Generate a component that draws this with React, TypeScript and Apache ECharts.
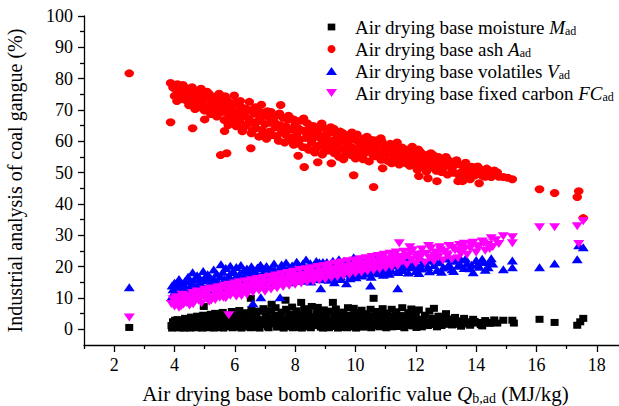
import React, { useEffect, useRef } from 'react';
import * as echarts from 'echarts';

const FONT = '"Liberation Serif", "Times New Roman", serif';

const seriesNames = [
  'Air drying base moisture',
  'Air drying base ash',
  'Air drying base volatiles',
  'Air drying base fixed carbon',
];

const legendLabels: Record<string, string> = {
  'Air drying base moisture': '{sp| }Air drying base moisture {i|M}{sub|ad}',
  'Air drying base ash': '{sp| }Air drying base ash {i|A}{sub|ad}',
  'Air drying base volatiles': '{sp| }Air drying base volatiles {i|V}{sub|ad}',
  'Air drying base fixed carbon': '{sp| }Air drying base fixed carbon {i|FC}{sub|ad}',
};

const xMajorTicks = [2, 4, 6, 8, 10, 12, 14, 16, 18];
const xMinorTicks = [1, 3, 5, 7, 9, 11, 13, 15, 17, 19];
const yMajorTicks = [0, 10, 20, 30, 40, 50, 60, 70, 80, 90, 100];
const yMinorTicks = [5, 15, 25, 35, 45, 55, 65, 75, 85, 95];

const moisture: number[][] = [
  [2.5,0.6],[3.9,1.2],[3.95,2.4],[4.0,0.8],[4.05,1.9],[4.1,3.1],[4.15,1.4],[4.2,0.5],[4.25,2.7],[4.3,1.6],[4.35,3.5],[4.4,0.9],[4.45,2.2],[4.5,1.3],[4.55,3.9],[4.6,0.6],[4.65,2.6],[4.7,1.7],[4.75,4.2],[4.8,0.9],[4.85,3.0],[4.9,1.5],[4.97,7.3],[4.95,4.5],[5.0,2.1],[5.05,0.7],[5.1,3.4],[5.15,1.8],[5.2,4.8],[5.25,1.0],[5.3,2.9],[5.35,5.1],[5.4,1.4],[5.45,3.7],[5.5,0.6],[5.55,2.4],[5.6,5.4],[5.65,1.2],[5.7,3.3],[5.75,4.5],[5.8,0.9],[5.85,2.7],[5.9,5.7],[5.95,1.6],[6.0,3.8],[6.05,0.7],[6.1,2.3],[6.15,6.0],[6.2,1.3],[6.25,4.2],[6.3,2.9],[6.35,0.8],[6.4,5.3],[6.45,1.9],[6.53,9.9],[6.5,3.5],[6.55,6.3],[6.6,1.1],[6.65,4.6],[6.7,2.6],[6.75,0.6],[6.8,5.8],[6.85,3.1],[6.9,1.5],[6.95,6.6],[7.0,2.2],[7.05,4.4],[7.1,0.9],[7.15,3.6],[7.22,8.0],[7.2,5.9],[7.25,1.7],[7.3,2.8],[7.35,6.9],[7.4,0.7],[7.45,4.1],[7.5,2.0],[7.55,5.5],[7.6,1.2],[7.68,9.3],[7.65,3.3],[7.7,6.4],[7.75,0.9],[7.8,4.8],[7.85,2.5],[7.9,7.1],[7.95,1.4],[8.0,3.8],[8.05,5.9],[8.1,0.6],[8.15,2.9],[8.2,8.6],[8.2,4.5],[8.25,1.8],[8.3,6.6],[8.35,3.2],[8.4,0.8],[8.45,5.2],[8.5,2.3],[8.55,7.3],[8.6,1.2],[8.65,4.0],[8.75,7.0],[8.7,2.7],[8.8,5.6],[8.85,0.7],[8.9,3.5],[8.95,6.2],[9.0,1.6],[9.05,4.3],[9.1,2.4],[9.15,5.8],[9.25,8.6],[9.2,0.9],[9.3,3.7],[9.35,6.5],[9.4,1.9],[9.45,4.8],[9.5,0.6],[9.55,2.9],[9.6,5.5],[9.65,1.3],[9.7,3.9],[9.75,6.9],[9.8,2.1],[9.85,4.5],[9.94,6.7],[9.9,0.8],[9.95,3.2],[10.0,5.3],[10.05,1.7],[10.1,4.0],[10.15,2.6],[10.2,6.1],[10.25,0.7],[10.3,3.6],[10.35,5.0],[10.4,1.5],[10.45,2.8],[10.5,6.4],[10.6,9.9],[10.55,4.3],[10.6,1.1],[10.65,3.3],[10.7,5.7],[10.75,2.2],[10.8,0.8],[10.85,4.6],[10.9,6.6],[10.95,1.8],[11.0,3.4],[11.05,5.2],[11.1,1.0],[11.2,6.4],[11.15,2.7],[11.25,4.1],[11.3,1.6],[11.35,5.6],[11.4,2.9],[11.45,0.9],[11.5,4.4],[11.55,6.9],[11.6,2.2],[11.65,3.8],[11.7,1.3],[11.75,5.3],[11.8,2.6],[11.85,6.5],[11.9,1.1],[11.95,3.6],[12.0,4.9],[12.05,1.9],[12.1,6.2],[12.15,3.0],[12.2,0.8],[12.3,4.5],[12.35,2.3],[12.45,5.8],[12.5,1.5],[12.6,6.7],[12.55,3.5],[12.65,2.0],[12.75,4.2],[12.85,1.2],[12.9,3.1],[13.0,5.0],[13.1,2.5],[13.2,1.4],[13.3,3.8],[13.4,2.1],[13.5,1.0],[13.6,3.5],[13.7,2.4],[13.8,1.3],[13.9,3.2],[14.0,2.0],[14.1,2.2],[14.2,1.1],[14.3,2.8],[14.45,1.9],[14.5,2.2],[14.6,3.0],[14.9,2.9],[15.2,2.9],[15.25,2.0],[16.1,3.2],[16.6,2.2],[17.35,1.3],[17.55,3.5],[17.45,2.4],
  [3.92,0.4],[4.02,2.9],[4.12,0.5],[4.22,1.9],[4.32,0.4],[4.42,2.8],[4.52,0.4],[4.62,1.6],[4.72,0.5],[4.82,2.3],[4.92,0.4],[5.02,1.3],[5.12,0.5],[5.22,2.6],[5.32,0.4],[5.42,2.2],[5.52,1.6],[5.62,0.4],[5.72,2.0],[5.82,3.7],[5.92,0.5],[6.02,1.8],[6.12,4.0],[6.22,0.4],[6.32,1.9],[6.42,3.2],[6.52,0.5],[6.62,2.9],[6.72,4.2],[6.82,0.4],[6.92,2.6],[7.02,4.0],[7.12,0.5],[7.22,2.4],[7.32,4.5],[7.42,1.2],[7.52,3.4],[7.62,0.4],[7.72,2.0],[7.82,3.6],[7.92,0.5],[8.02,2.1],[8.12,4.2],[8.22,0.4],[8.32,2.2],[8.42,4.0],[8.52,0.5],[8.62,2.8],[8.72,5.0],[8.82,1.8],[8.92,0.4],[9.02,3.0],[9.12,0.5],[9.22,2.2],[9.32,5.2],[9.42,0.4],[9.52,2.0],[9.62,3.9],[9.72,0.5],[9.82,3.4],[9.92,2.4],[10.02,0.4],[10.12,2.9],[10.22,4.5],[10.32,1.0],[10.42,3.7],[10.52,0.5],[10.62,2.4],[10.72,4.0],[10.82,1.9],[10.92,3.1],[11.02,0.5],[11.12,2.2],[11.22,0.8],[11.32,3.3],[11.42,1.9],[11.52,2.5],[11.62,0.5],[11.72,3.2],[11.82,1.5],[11.92,2.6],[12.02,0.6],[12.12,2.2],[12.25,3.2],[12.4,1.2],[12.55,2.5],[12.7,0.8],[12.8,2.6],[12.95,1.6],[13.15,3.3],[13.35,1.6],[13.55,2.7],[13.75,1.7],[13.95,2.5],[14.15,1.5],[14.35,2.2],[14.7,2.0],
];

const ash: number[][] = [
  [2.5,81.7],[3.87,78.6],[3.87,66.1],[3.95,77.2],[4.05,76.5],[4.1,78.2],[4.15,74.8],[4.2,77.6],[4.25,75.9],[4.3,73.4],[4.35,77.1],[4.4,75.2],[4.45,72.6],[4.5,76.4],[4.55,74.1],[4.6,64.2],[4.6,71.8],[4.65,75.7],[4.7,73.2],[4.75,76.2],[4.8,70.9],[4.85,74.5],[4.9,72.3],[4.95,75.4],[5.0,67.0],[5.0,69.8],[5.05,73.6],[5.1,71.2],[5.15,75.1],[5.2,68.7],[5.25,72.8],[5.3,70.4],[5.35,74.2],[5.4,67.9],[5.45,71.6],[5.5,73.8],[5.53,55.6],[5.55,69.3],[5.6,72.1],[5.66,63.3],[5.65,66.8],[5.7,70.6],[5.73,56.2],[5.75,73.0],[5.8,68.4],[5.85,65.9],[5.9,71.4],[5.95,67.6],[6.0,72.3],[6.05,64.8],[6.1,69.7],[6.15,66.5],[6.2,71.0],[6.25,63.2],[6.3,68.2],[6.35,70.5],[6.4,65.4],[6.45,67.3],[6.53,57.8],[6.5,69.9],[6.55,62.6],[6.6,66.1],[6.65,68.8],[6.7,64.2],[6.75,70.2],[6.8,61.5],[6.85,67.4],[6.9,63.6],[6.95,69.1],[7.0,65.5],[7.05,60.8],[7.1,67.9],[7.15,63.1],[7.2,69.4],[7.25,62.0],[7.3,66.3],[7.35,64.5],[7.4,68.3],[7.45,60.2],[7.52,71.6],[7.5,65.2],[7.55,62.9],[7.6,67.5],[7.65,59.6],[7.7,64.7],[7.75,66.9],[7.8,61.3],[7.85,63.8],[7.9,67.1],[7.95,58.9],[8.0,65.4],[8.05,62.2],[8.1,55.4],[8.1,64.1],[8.15,60.5],[8.2,66.6],[8.25,58.2],[8.3,51.8],[8.3,63.3],[8.35,61.1],[8.4,65.8],[8.45,57.3],[8.5,62.6],[8.55,59.6],[8.6,64.9],[8.65,56.4],[8.7,61.7],[8.75,53.3],[8.75,63.8],[8.8,58.7],[8.85,60.9],[8.9,55.8],[8.95,64.3],[9.0,59.2],[9.05,62.4],[9.1,57.1],[9.18,64.5],[9.2,53.0],[9.2,60.3],[9.25,62.9],[9.3,56.2],[9.35,58.8],[9.4,61.6],[9.45,55.1],[9.5,63.1],[9.55,57.7],[9.6,54.3],[9.6,60.2],[9.65,62.0],[9.7,56.6],[9.75,59.1],[9.8,61.3],[9.85,55.6],[9.9,58.0],[9.94,49.2],[9.95,60.6],[10.0,54.5],[10.05,62.2],[10.1,57.2],[10.15,59.7],[10.2,55.9],[10.25,54.3],[10.3,61.0],[10.35,57.9],[10.4,59.8],[10.45,53.6],[10.5,56.7],[10.55,60.4],[10.6,45.4],[10.6,58.5],[10.65,55.2],[10.7,57.4],[10.75,59.6],[10.84,61.0],[10.85,54.1],[10.9,51.4],[10.9,56.8],[10.95,58.3],[11.0,55.6],[11.05,57.8],[11.1,53.6],[11.15,59.2],[11.2,53.0],[11.2,56.1],[11.3,58.4],[11.35,54.8],[11.4,57.0],[11.45,52.6],[11.5,55.9],[11.55,58.0],[11.6,53.9],[11.65,56.5],[11.7,54.6],[11.75,57.4],[11.8,52.2],[11.85,55.3],[11.9,57.1],[11.95,53.4],[12.0,55.8],[12.05,50.9],[12.1,48.9],[12.1,54.4],[12.15,56.6],[12.2,52.3],[12.3,55.2],[12.35,50.4],[12.4,48.2],[12.4,53.5],[12.5,56.2],[12.55,51.6],[12.6,54.3],[12.7,47.3],[12.7,52.6],[12.75,55.0],[12.85,50.2],[12.9,54.3],[12.95,52.0],[13.05,49.4],[13.1,53.8],[13.2,51.2],[13.3,52.9],[13.4,47.3],[13.4,52.7],[13.5,50.1],[13.55,47.3],[13.6,51.5],[13.7,49.0],[13.8,47.9],[13.85,51.9],[13.9,51.4],[14.0,49.6],[14.1,46.6],[14.15,51.0],[14.25,50.5],[14.3,48.7],[14.45,49.8],[14.5,48.6],[14.6,50.7],[14.9,48.6],[15.2,47.9],[16.1,44.7],[16.6,43.5],[17.4,44.1],[17.35,42.2],[17.55,35.5],
  [4.0,74.5],[4.08,72.9],[4.18,76.9],[4.28,78.0],[4.38,74.0],[4.48,71.5],[4.58,77.3],[4.68,70.3],[4.78,74.0],[4.88,76.8],[4.98,71.0],[5.08,75.8],[5.18,70.0],[5.28,73.9],[5.38,68.6],[5.48,75.2],[5.58,70.2],[5.68,74.4],[5.78,65.2],[5.88,69.3],[5.98,74.6],[6.08,67.6],[6.18,72.9],[6.28,64.3],[6.38,69.6],[6.48,72.6],[6.58,63.5],[6.68,70.9],[6.78,66.5],[6.88,71.7],[6.98,62.5],[7.08,69.6],[7.18,65.9],[7.28,67.6],[7.38,61.6],[7.48,68.9],[7.58,64.0],[7.68,62.1],[7.78,68.2],[7.88,60.3],[7.98,66.8],[8.08,59.3],[8.18,63.6],[8.28,67.3],[8.38,58.0],[8.48,64.2],[8.58,61.0],[8.68,57.6],[8.78,62.2],[8.88,65.7],[8.98,57.0],[9.08,60.6],[9.18,58.0],[9.28,64.0],[9.38,56.8],[9.48,60.0],[9.58,62.6],[9.68,55.9],[9.78,57.5],[9.88,62.8],[9.98,56.2],[10.08,60.0],[10.18,58.6],[10.28,56.0],[10.38,61.5],[10.48,58.3],[10.58,55.6],[10.68,60.3],[10.78,56.1],[10.88,59.9],[10.98,54.2],[11.08,56.6],[11.18,58.0],[11.28,55.0],[11.38,59.6],[11.48,54.0],[11.58,57.0],[11.68,53.0],[11.78,55.8],[11.88,58.3],[11.98,52.7],[12.08,57.4],[12.18,54.0],[12.28,51.6],[12.38,55.7],[12.48,53.0],[12.58,55.6],[12.68,50.6],[12.78,53.6],[12.88,51.2],[13.0,55.0],[13.15,52.2],[13.25,50.0],[13.35,54.0],[13.45,49.0],[13.65,53.2],[13.75,50.5],[13.95,49.1],[14.05,52.0],[14.2,49.0],[14.35,51.3],[14.55,49.4],[14.75,48.7],[14.7,50.1],[15.05,48.4],
];

const volatiles: number[][] = [
  [2.5,13.4],[3.9,10.2],[3.95,12.8],[4.0,14.9],[4.05,11.6],[4.1,13.7],[4.15,16.1],[4.2,12.3],[4.25,14.6],[4.3,10.9],[4.35,15.4],[4.4,13.1],[4.45,16.8],[4.5,11.8],[4.55,14.3],[4.6,18.2],[4.6,12.7],[4.65,15.9],[4.7,13.5],[4.75,17.3],[4.8,12.1],[4.85,16.2],[4.9,14.2],[4.95,18.6],[5.0,13.0],[5.05,15.7],[5.1,17.6],[5.15,12.6],[5.2,16.5],[5.25,14.7],[5.3,19.1],[5.35,13.4],[5.4,17.8],[5.45,15.2],[5.54,20.8],[5.5,13.9],[5.6,18.4],[5.65,16.0],[5.7,19.6],[5.75,14.3],[5.8,17.2],[5.85,20.3],[5.9,15.1],[5.95,18.7],[6.0,16.4],[6.05,19.9],[6.1,14.6],[6.15,17.6],[6.2,20.5],[6.25,15.8],[6.3,18.9],[6.35,16.7],[6.4,19.4],[6.45,14.9],[6.5,17.9],[6.6,8.3],[6.55,20.1],[6.6,16.2],[6.65,18.6],[6.7,15.4],[6.75,19.7],[6.86,10.2],[6.8,17.1],[6.85,20.6],[6.9,15.9],[6.95,18.3],[7.0,16.8],[7.05,20.2],[7.1,14.8],[7.15,18.0],[7.2,19.5],[7.25,16.3],[7.3,21.0],[7.35,17.5],[7.4,15.2],[7.5,10.2],[7.45,19.0],[7.5,17.0],[7.55,20.7],[7.6,16.0],[7.65,18.8],[7.7,21.3],[7.75,15.6],[7.8,19.8],[7.85,17.4],[7.9,20.4],[7.95,16.5],[8.0,18.6],[8.05,21.6],[8.1,15.9],[8.15,19.2],[8.2,17.7],[8.25,20.9],[8.36,22.3],[8.3,16.8],[8.4,19.5],[8.45,18.1],[8.5,21.1],[8.55,16.4],[8.6,20.0],[8.65,17.9],[8.7,21.8],[8.8,21.4],[8.85,13.1],[8.75,16.9],[8.8,19.3],[8.9,18.3],[8.95,20.6],[9.0,17.2],[9.05,21.5],[9.1,16.6],[9.15,19.9],[9.2,18.5],[9.3,15.0],[9.25,21.9],[9.3,17.6],[9.35,20.2],[9.4,18.8],[9.45,22.4],[9.5,17.0],[9.55,20.8],[9.6,19.1],[9.7,14.7],[9.65,17.8],[9.7,21.4],[9.75,18.4],[9.8,20.5],[9.85,17.3],[9.94,23.0],[9.9,19.6],[9.95,21.1],[10.0,18.0],[10.05,20.3],[10.1,17.5],[10.15,22.0],[10.2,19.0],[10.25,21.3],[10.3,18.3],[10.35,20.6],[10.4,17.8],[10.5,14.0],[10.45,22.3],[10.5,19.4],[10.55,21.0],[10.6,18.1],[10.65,20.2],[10.7,22.7],[10.75,19.2],[10.8,17.9],[10.85,21.5],[10.9,19.8],[10.95,18.5],[11.0,20.9],[11.05,22.4],[11.1,19.0],[11.15,21.2],[11.2,18.7],[11.3,20.4],[11.4,13.1],[11.35,22.0],[11.45,19.5],[11.5,21.1],[11.55,18.9],[11.65,20.6],[11.7,22.8],[11.8,19.8],[11.9,21.6],[12.0,18.6],[12.05,20.1],[12.15,22.4],[12.2,19.4],[12.3,21.0],[12.4,19.9],[12.5,22.0],[12.6,20.5],[12.7,18.9],[12.8,21.4],[12.9,19.7],[13.0,22.6],[13.1,20.7],[13.2,19.2],[13.3,21.9],[13.4,20.3],[13.5,22.3],[13.6,19.6],[13.7,21.1],[13.9,18.2],[13.85,20.6],[14.0,22.1],[14.1,20.0],[14.25,21.5],[14.4,19.8],[14.5,22.7],[14.55,21.0],[14.9,19.2],[15.2,22.0],[15.2,19.8],[16.1,19.8],[16.6,21.0],[17.35,22.4],[17.55,26.2],[17.4,26.8],
  [3.92,14.0],[4.02,12.2],[4.12,15.2],[4.22,10.8],[4.32,13.4],[4.42,11.5],[4.52,15.6],[4.62,14.0],[4.72,11.9],[4.82,14.8],[4.92,12.8],[5.02,16.9],[5.12,14.1],[5.22,12.0],[5.32,15.9],[5.42,13.0],[5.52,17.0],[5.62,14.8],[5.72,12.9],[5.82,16.0],[5.92,18.3],[6.02,13.4],[6.12,16.9],[6.22,14.0],[6.32,17.3],[6.42,15.6],[6.52,13.9],[6.62,19.1],[6.72,16.8],[6.82,14.4],[6.92,19.6],[7.02,15.3],[7.12,17.6],[7.22,14.2],[7.32,18.9],[7.42,16.4],[7.52,14.9],[7.62,19.9],[7.72,17.1],[7.82,15.0],[7.92,18.6],[8.02,16.1],[8.12,20.5],[8.22,15.5],[8.32,18.9],[8.42,16.9],[8.52,15.3],[8.62,19.0],[8.72,17.2],[8.82,16.0],[8.92,21.5],[9.02,18.9],[9.12,15.8],[9.22,20.5],[9.32,16.4],[9.42,19.8],[9.52,16.1],[9.62,21.9],[9.72,18.0],[9.82,16.3],[9.92,21.7],[10.02,16.6],[10.12,19.8],[10.22,17.2],[10.32,21.9],[10.42,18.9],[10.52,16.8],[10.62,21.7],[10.72,18.6],[10.82,20.5],[10.92,17.4],[11.02,19.6],[11.12,17.7],[11.22,21.8],[11.42,18.3],[11.6,20.0],[11.75,18.1],[11.95,20.5],[12.1,18.0],[12.25,21.5],[12.45,18.5],[12.65,21.9],[12.85,18.4],[13.05,20.1],[13.25,18.6],[13.45,21.0],[13.65,22.6],[13.8,19.5],[14.05,20.8],[14.3,19.0],[14.45,21.4],[14.2,22.5],
];

const fixedCarbon: number[][] = [
  [2.5,3.8],[3.9,8.1],[3.95,9.6],[4.0,7.3],[4.05,10.2],[4.1,8.6],[4.15,6.9],[4.2,9.3],[4.25,11.0],[4.3,7.9],[4.35,9.8],[4.4,8.4],[4.45,10.8],[4.5,7.6],[4.55,9.5],[4.6,11.6],[4.65,8.9],[4.7,10.4],[4.75,12.1],[4.8,9.1],[4.85,11.3],[4.9,8.3],[4.95,10.7],[5.0,12.6],[5.05,9.7],[5.1,11.8],[5.15,8.8],[5.2,13.0],[5.25,10.3],[5.3,12.2],[5.35,9.4],[5.4,11.5],[5.45,13.4],[5.5,10.1],[5.55,12.7],[5.6,11.0],[5.65,13.9],[5.7,9.9],[5.8,4.5],[5.75,12.4],[5.8,14.2],[5.85,10.7],[5.9,13.1],[5.95,11.7],[6.0,14.6],[6.05,10.5],[6.1,12.9],[6.15,15.0],[6.2,11.4],[6.25,13.6],[6.3,12.2],[6.35,15.3],[6.4,11.0],[6.45,14.1],[6.5,12.8],[6.55,15.7],[6.6,11.8],[6.65,14.4],[6.7,13.2],[6.75,16.1],[6.8,12.4],[6.85,14.9],[6.9,13.6],[6.95,16.4],[7.0,12.0],[7.05,15.2],[7.1,13.9],[7.15,16.8],[7.2,12.7],[7.25,15.6],[7.3,14.3],[7.35,17.2],[7.4,13.1],[7.45,16.0],[7.5,14.7],[7.55,17.6],[7.6,13.5],[7.65,16.3],[7.7,15.1],[7.75,18.0],[7.8,13.9],[7.85,16.7],[7.9,15.4],[7.95,18.4],[8.0,14.2],[8.05,17.1],[8.1,15.8],[8.15,18.9],[8.2,14.6],[8.25,17.4],[8.3,16.1],[8.35,19.2],[8.4,15.0],[8.45,17.8],[8.5,16.5],[8.55,19.5],[8.6,15.3],[8.65,18.1],[8.7,16.9],[8.75,19.9],[8.8,15.7],[8.85,18.5],[8.9,17.2],[8.95,20.2],[9.0,16.0],[9.05,18.8],[9.1,17.5],[9.15,20.6],[9.2,16.4],[9.25,19.2],[9.3,17.9],[9.35,21.0],[9.4,16.7],[9.45,19.5],[9.5,18.2],[9.55,21.3],[9.6,17.1],[9.65,19.9],[9.7,18.6],[9.75,21.7],[9.8,17.4],[9.85,20.3],[9.9,18.9],[9.95,22.0],[10.0,17.8],[10.05,20.6],[10.1,19.3],[10.15,22.4],[10.2,18.1],[10.25,21.0],[10.3,19.6],[10.35,22.7],[10.4,18.5],[10.45,21.3],[10.5,20.0],[10.55,23.1],[10.6,18.8],[10.65,21.7],[10.7,20.3],[10.75,23.4],[10.8,19.2],[10.85,22.0],[10.9,20.7],[10.95,23.8],[11.0,19.5],[11.05,22.4],[11.1,21.0],[11.15,24.1],[11.2,19.9],[11.25,22.7],[11.3,21.4],[11.35,24.5],[11.45,27.5],[11.4,20.2],[11.5,23.1],[11.55,21.7],[11.6,24.8],[11.7,20.6],[11.8,26.2],[11.75,23.4],[11.85,22.1],[11.9,25.2],[12.0,21.0],[12.05,23.8],[12.1,22.4],[12.2,25.5],[12.3,21.3],[12.35,24.1],[12.45,22.8],[12.5,25.9],[12.6,21.7],[12.65,24.5],[12.75,23.1],[12.8,26.2],[12.9,22.0],[12.95,24.8],[13.05,23.5],[13.1,26.6],[13.2,22.4],[13.3,25.2],[13.4,22.7],[13.45,26.9],[13.5,24.2],[13.6,27.3],[13.7,23.8],[13.8,25.8],[13.9,27.6],[14.0,24.5],[14.1,26.4],[14.2,28.0],[14.3,25.1],[14.4,27.0],[14.5,29.1],[14.55,26.3],[14.9,29.7],[15.2,29.4],[15.2,27.5],[16.1,32.6],[16.6,32.6],[17.35,32.9],[17.55,34.5],[17.4,27.2],
  [4.02,8.9],[4.22,7.4],[4.42,10.1],[4.62,8.0],[4.82,10.0],[5.02,11.1],[5.22,9.2],[5.42,12.6],[5.62,10.1],[5.82,12.0],[6.02,13.3],[6.22,10.6],[6.42,13.2],[6.62,14.8],[6.82,13.8],[7.02,14.0],[7.22,16.4],[7.42,14.9],[7.62,15.6],[7.82,17.5],[8.02,15.8],[8.22,16.8],[8.42,18.7],[8.62,17.3],[8.82,17.0],[9.02,19.6],[9.22,17.8],[9.42,20.1],[9.62,18.8],[9.82,19.6],[10.02,21.4],[10.22,19.9],[10.42,22.0],[10.62,20.1],[10.82,23.0],[11.02,21.2],[11.22,23.5],[11.42,22.4],[11.62,23.0],[11.82,24.6],[12.02,22.9],[12.22,24.0],[12.42,26.6],[12.62,23.4],[12.82,25.2],[13.02,24.0],[13.22,26.0],[13.42,25.0],[13.62,25.6],[13.82,27.0],[14.02,26.5],[14.25,27.5],[14.45,25.6],[14.65,28.4],[14.75,27.2],
];

const axisColor = '#000';

export default function App() {
  const ref = useRef<HTMLDivElement>(null);

  useEffect(() => {
    document.documentElement.style.overflow = 'hidden';
    document.body.style.overflow = 'hidden';
    const chart = echarts.init(ref.current!, null, { renderer: 'svg' });
    const lineStyle = { color: axisColor, width: 1.3 };
    chart.setOption({
      animation: false,
      backgroundColor: '#fff',
      textStyle: { fontFamily: FONT, color: '#000' },
      grid: { left: 84, top: 16, width: 543, height: 329, containLabel: false, outerBoundsMode: 'none' },
      legend: {
        orient: 'vertical',
        left: 321,
        top: 12,
        itemWidth: 11,
        itemHeight: 8,
        itemGap: 2,
        selectedMode: false,
        data: [
          { name: seriesNames[0], icon: 'path://M0,0 M11,8 M1.7,0.6h7.6v6.8h-7.6z' },
          { name: seriesNames[1], icon: 'circle' },
          { name: seriesNames[2], icon: 'path://M5.5,0L11,8L0,8Z' },
          { name: seriesNames[3], icon: 'path://M0,0L11,0L5.5,8Z' },
        ],
        formatter: (name: string) => legendLabels[name],
        textStyle: {
          fontFamily: FONT,
          fontSize: 19,
          color: '#000',
          lineHeight: 20,
          rich: {
            sp: { width: 13, fontSize: 19, lineHeight: 20 },
            i: { fontFamily: FONT, fontStyle: 'italic', fontSize: 19, color: '#000', lineHeight: 20 },
            sub: { fontFamily: FONT, fontSize: 12, color: '#000', lineHeight: 12, verticalAlign: 'bottom' },
          },
        },
      },
      xAxis: [
        {
          type: 'value',
          min: 1,
          max: 19,
          position: 'bottom',
          name: 'Air drying base bomb calorific value {i|Q}{sub|b,ad} (MJ/kg)',
          nameLocation: 'middle',
          nameGap: 37,
          nameTextStyle: {
            fontFamily: FONT,
            fontSize: 21,
            color: '#000',
            lineHeight: 23,
            rich: {
              i: { fontFamily: FONT, fontStyle: 'italic', fontSize: 21, color: '#000', lineHeight: 23 },
              sub: { fontFamily: FONT, fontSize: 14, color: '#000', lineHeight: 12, verticalAlign: 'bottom' },
            },
          },
          axisLine: { show: true, onZero: false, lineStyle },
          axisTick: { show: true, customValues: xMajorTicks, length: 7, lineStyle },
          axisLabel: { customValues: xMajorTicks, fontFamily: FONT, fontSize: 18, color: '#000', margin: 11 },
          splitLine: { show: false },
        },
        {
          type: 'value',
          min: 1,
          max: 19,
          position: 'bottom',
          axisLine: { show: false, onZero: false },
          axisTick: { show: true, customValues: xMinorTicks, length: 4, lineStyle },
          axisLabel: { show: false },
          splitLine: { show: false },
        },
      ],
      yAxis: [
        {
          type: 'value',
          min: -5,
          max: 100,
          position: 'left',
          name: 'Industrial analysis of coal gangue (%)',
          nameLocation: 'middle',
          nameGap: 59,
          nameTextStyle: { fontFamily: FONT, fontSize: 20, color: '#000' },
          axisLine: { show: true, onZero: false, lineStyle },
          axisTick: { show: true, customValues: yMajorTicks, length: 6, lineStyle },
          axisLabel: { customValues: yMajorTicks, fontFamily: FONT, fontSize: 18, color: '#000', margin: 11 },
          splitLine: { show: false },
        },
        {
          type: 'value',
          min: -5,
          max: 100,
          position: 'left',
          axisLine: { show: false, onZero: false },
          axisTick: { show: true, customValues: yMinorTicks, length: 4, lineStyle },
          axisLabel: { show: false },
          splitLine: { show: false },
        },
      ],
      series: [
        {
          name: seriesNames[0],
          type: 'scatter',
          data: moisture,
          symbol: 'rect',
          symbolSize: [8, 7],
          itemStyle: { color: '#000000', opacity: 1 },
          xAxisIndex: 0,
          yAxisIndex: 0,
        },
        {
          name: seriesNames[1],
          type: 'scatter',
          data: ash,
          symbol: 'circle',
          symbolSize: [9.5, 8],
          itemStyle: { color: '#ff0000', opacity: 1 },
          xAxisIndex: 0,
          yAxisIndex: 0,
        },
        {
          name: seriesNames[2],
          type: 'scatter',
          data: volatiles,
          symbol: 'triangle',
          symbolSize: [11, 8],
          itemStyle: { color: '#0000ff', opacity: 1 },
          xAxisIndex: 0,
          yAxisIndex: 0,
        },
        {
          name: seriesNames[3],
          type: 'scatter',
          data: fixedCarbon,
          symbol: 'triangle',
          symbolRotate: 180,
          symbolSize: [11, 8],
          itemStyle: { color: '#ff00ff', opacity: 1 },
          xAxisIndex: 0,
          yAxisIndex: 0,
        },
      ],
    });
    return () => chart.dispose();
  }, []);

  return (
    <div
      ref={ref}
      style={{ position: 'fixed', left: 0, top: 0, width: 640, height: 406, background: '#fff' }}
    />
  );
}
